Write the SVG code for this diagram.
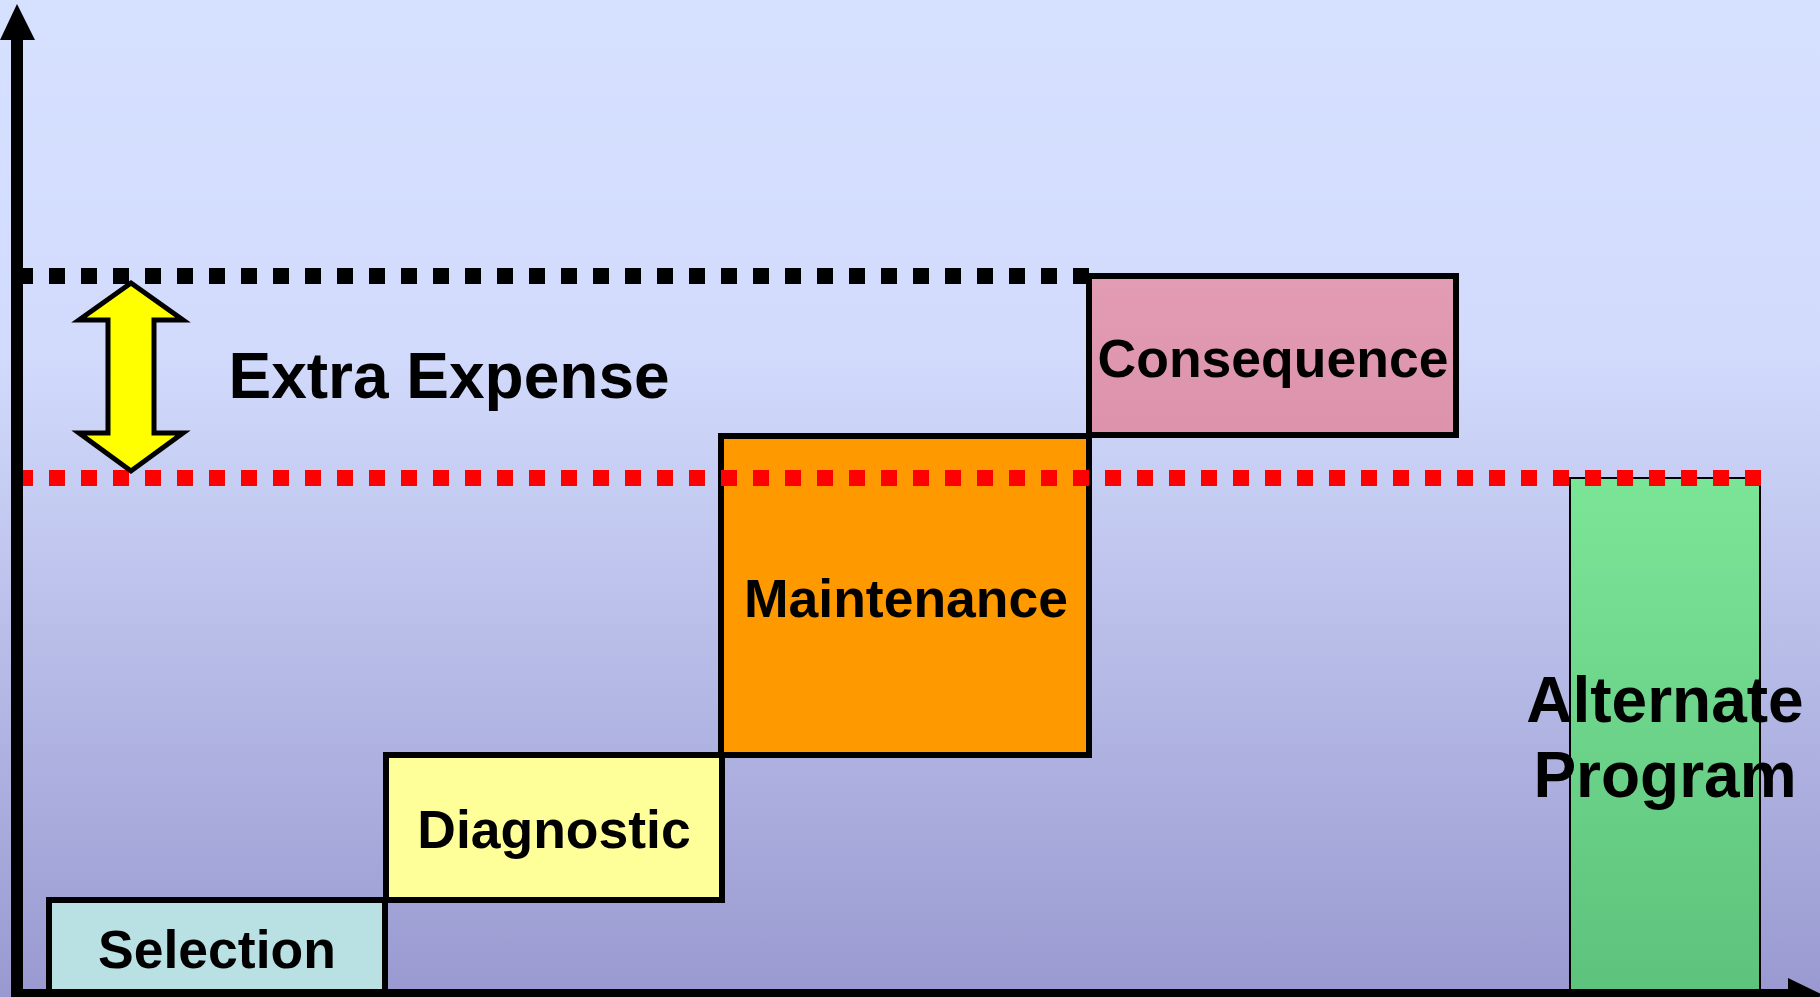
<svg xmlns="http://www.w3.org/2000/svg" width="1820" height="997" viewBox="0 0 1820 997">
<defs>
<linearGradient id="bg" x1="0" y1="0" x2="0" y2="1">
<stop offset="0" stop-color="#d6e0ff"/>
<stop offset="0.35" stop-color="#d2dbfc"/>
<stop offset="1" stop-color="#9999d0"/>
</linearGradient>
<linearGradient id="gr" x1="0" y1="0" x2="0" y2="1">
<stop offset="0" stop-color="#7be597"/>
<stop offset="1" stop-color="#5dc27c"/>
</linearGradient>
<linearGradient id="pk" x1="0" y1="0" x2="0" y2="1">
<stop offset="0" stop-color="#e29cb3"/>
<stop offset="1" stop-color="#dc93ab"/>
</linearGradient>
<style>
.box{stroke:#000;stroke-width:6}
.lbl{font-family:"Liberation Sans",Arial,sans-serif;font-weight:bold;font-size:53.5px;fill:#000;text-anchor:middle}
.big{font-size:64px}
.dot{fill:none;stroke-width:16;stroke-dasharray:16 16}
</style>
</defs>
<rect x="0" y="0" width="1820" height="997" fill="url(#bg)"/>

<g id="alternate">
<rect x="1570" y="478" width="190" height="520" fill="url(#gr)" stroke="#000" stroke-width="2"/>
</g>
<g id="selection">
<rect class="box" x="49" y="900" width="336" height="110" fill="#b9e0e3"/>
<text class="lbl" x="217" y="968">Selection</text>
</g>
<g id="diagnostic">
<rect class="box" x="386" y="755" width="336" height="145" fill="#ffff99"/>
<text class="lbl" x="554" y="848">Diagnostic</text>
</g>
<g id="maintenance">
<rect class="box" x="721" y="436" width="368" height="319" fill="#ff9900"/>
<text class="lbl" x="906" y="617">Maintenance</text>
</g>
<g id="consequence">
<rect class="box" x="1089" y="276" width="367" height="159" fill="url(#pk)"/>
<text class="lbl" x="1273" y="377">Consequence</text>
</g>

<g id="connectors">
<line class="dot" x1="17" y1="276" x2="1089" y2="276" stroke="#000"/>
<line class="dot" x1="17" y1="478" x2="1761" y2="478" stroke="#ff0000"/>
<line x1="17" y1="40" x2="17" y2="997" stroke="#000" stroke-width="12"/>
<polygon points="0,40 17,4 35,40" fill="#000"/>
<line x1="11" y1="995" x2="1790" y2="995" stroke="#000" stroke-width="12"/>
<polygon points="1788,978 1823,995 1788,1012" fill="#000"/>
</g>

<g id="extra-arrow">
<polygon points="131,283 183,320 154,320 154,433 183,433 131,471 79,433 108,433 108,320 79,320" fill="#ffff00" stroke="#000" stroke-width="5" stroke-linejoin="miter"/>
</g>
<g id="extra-label">
<text class="lbl big" x="449" y="398">Extra Expense</text>
</g>
<g id="alternate-label">
<text class="lbl big" x="1665" y="722">Alternate</text>
<text class="lbl big" x="1665" y="797">Program</text>
</g>
</svg>
